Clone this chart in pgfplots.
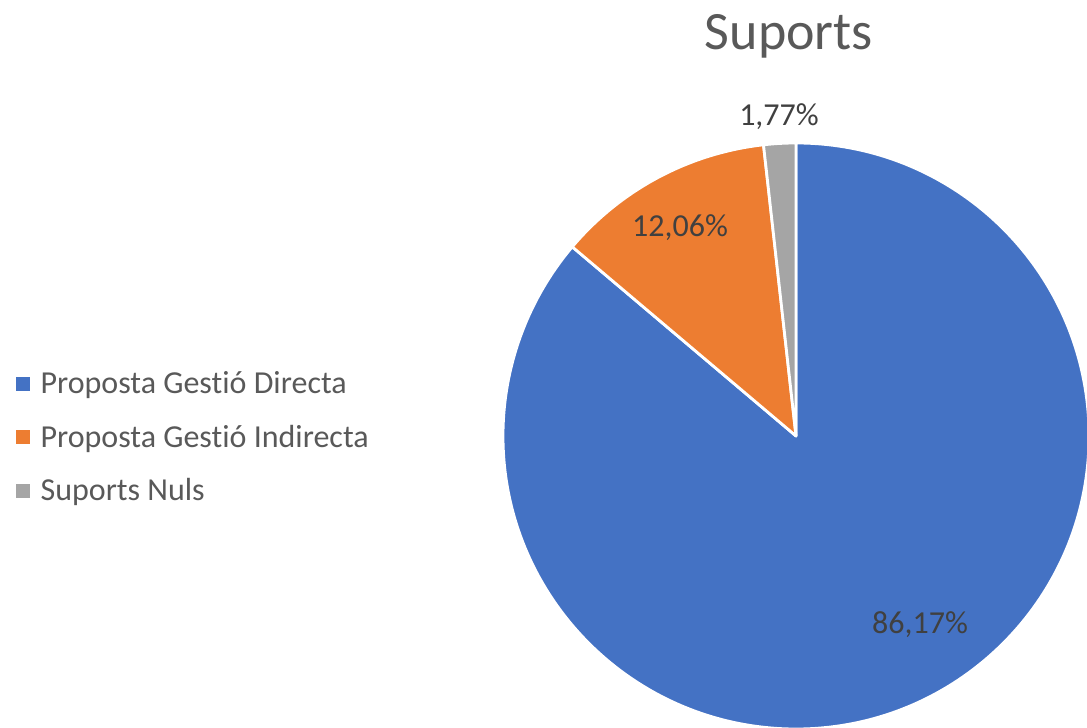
\documentclass[border=0pt]{standalone}
\usepackage{pgfplots}
\usepackage{pgfplotstable}
\usepackage{fontspec}
\setmainfont[Ligatures=NoCommon]{Carlito}
\pgfplotsset{compat=1.18}

\definecolor{sBlue}{HTML}{4472C4}
\definecolor{sOrange}{HTML}{ED7D31}
\definecolor{sGray}{HTML}{A5A5A5}
\definecolor{txtTitle}{HTML}{595959}
\definecolor{txtLabel}{HTML}{404040}

% shares in percent, clockwise from 12 o'clock
\pgfplotstableread{
value
86.17
12.06
1.77
}\piedata

\begin{document}
\begin{tikzpicture}
\useasboundingbox (0,0) rectangle (1087bp,728bp);
\pgfplotstablegetelem{0}{value}\of\piedata \let\va\pgfplotsretval
\pgfplotstablegetelem{1}{value}\of\piedata \let\vb\pgfplotsretval
\pgfplotstablegetelem{2}{value}\of\piedata \let\vc\pgfplotsretval
\pgfmathsetmacro\aA{90}
\pgfmathsetmacro\aB{90-3.6*\va}
\pgfmathsetmacro\aC{\aB-3.6*\vb}
\pgfmathsetmacro\aD{\aC-3.6*\vc}
\def\R{293bp}
\begin{axis}[
    at={(0,0)}, anchor=south west,
    width=1087bp, height=728bp, scale only axis,
    xmin=0, xmax=1087, ymin=0, ymax=728,
    hide axis, clip=true,
    legend style={draw=none, fill=none, at={(axis cs:16,291)}, anchor=west,
        inner sep=0pt, row sep=30bp,
        font=\fontsize{32bp}{36bp}\selectfont, text=txtTitle,
        nodes={inner sep=0pt, outer sep=0pt}},
    legend cell align=left,
    legend image code/.code={\fill[#1] (0bp,-6.5bp) rectangle (13bp,6.5bp);},
]
\addlegendimage{sBlue}
\addlegendentry{\hspace{11bp}Proposta Gestió Directa}
\addlegendimage{sOrange}
\addlegendentry{\hspace{11bp}Proposta Gestió Indirecta}
\addlegendimage{sGray}
\addlegendentry{\hspace{11bp}Suports Nuls}

\filldraw[fill=sBlue, draw=white, line width=2.8bp, line join=round]
    (axis cs:796,292) -- ++(\aA:\R) arc[start angle=\aA, end angle=\aB, radius=\R] -- cycle;
\filldraw[fill=sOrange, draw=white, line width=2.8bp, line join=round]
    (axis cs:796,292) -- ++(\aB:\R) arc[start angle=\aB, end angle=\aC, radius=\R] -- cycle;
\filldraw[fill=sGray, draw=white, line width=2.8bp, line join=round]
    (axis cs:796,292) -- ++(\aC:\R) arc[start angle=\aC, end angle=\aD, radius=\R] -- cycle;

\node[text=txtLabel, font=\fontsize{32bp}{36bp}\selectfont] at (axis cs:920,103) {86,17\%};
\node[text=txtLabel, font=\fontsize{32bp}{36bp}\selectfont] at (axis cs:680,500) {12,06\%};
\node[text=txtLabel, font=\fontsize{32bp}{36bp}\selectfont] at (axis cs:779,611) {1,77\%};
\node[text=txtTitle, font=\fontsize{54bp}{60bp}\selectfont] at (axis cs:789,692) {Suports};
\end{axis}
\end{tikzpicture}
\end{document}
